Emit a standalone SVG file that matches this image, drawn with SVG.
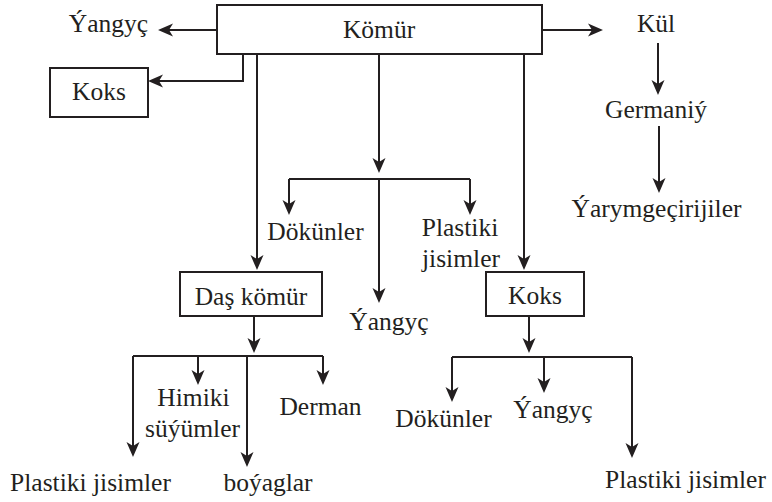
<svg xmlns="http://www.w3.org/2000/svg" width="772" height="502" viewBox="0 0 772 502">
<defs>
<style>
.t{font-size:25.5px;fill:#231f20;text-anchor:middle}
.b{fill:#fff;stroke:#231f20;stroke-width:2}
.c{fill:none;stroke:#231f20;stroke-width:2}
.a{fill:none;stroke:#231f20;stroke-width:2;marker-end:url(#ah)}
</style>
<marker id="ah" markerUnits="userSpaceOnUse" viewBox="-8 -7 17 14" refX="0" refY="0" markerWidth="17" markerHeight="14" orient="auto">
<path d="M8,0 L-7,-6.5 L-3,0 L-7,6.5 Z" fill="#231f20"/>
</marker>
</defs>
<rect width="772" height="502" fill="#fff"/>
<g id="connectors">
<path class="a" d="M217,30 H166"/>
<path class="a" d="M243,54 V81 H156"/>
<path class="a" d="M257,54 V262"/>
<path class="a" d="M379,54 V165"/>
<path class="c" d="M289,179 H470"/>
<path class="a" d="M289,179 V207"/>
<path class="a" d="M470,179 V207"/>
<path class="a" d="M379,179 V295"/>
<path class="a" d="M524,54 V262"/>
<path class="a" d="M542,30 H595"/>
<path class="a" d="M658,43 V87"/>
<path class="a" d="M659,126 V185"/>
<path class="a" d="M254,316 V345"/>
<path class="c" d="M133,356 H323"/>
<path class="a" d="M133,356 V449"/>
<path class="a" d="M198,356 V377"/>
<path class="a" d="M247,356 V459"/>
<path class="a" d="M323,356 V377"/>
<path class="a" d="M529,316 V345"/>
<path class="c" d="M452,357 H632"/>
<path class="a" d="M452,357 V394"/>
<path class="a" d="M544,357 V385"/>
<path class="a" d="M632,357 V450"/>
</g>
<g font-family="Liberation Serif, serif">
<g id="komur"><rect class="b" x="217" y="5" width="325" height="49"/><text class="t" x="379" y="38">Kömür</text></g>
<g id="yangyc1"><text class="t" x="108.5" y="32">Ýangyç</text></g>
<g id="koks1"><rect class="b" x="50" y="68" width="98" height="49"/><text class="t" x="99" y="100">Koks</text></g>
<g id="kul"><text class="t" x="656" y="32">Kül</text></g>
<g id="germaniy"><text class="t" x="656" y="118">Germaniý</text></g>
<g id="yarymgecirijiler"><text class="t" x="656.5" y="217">Ýarymgeçirijiler</text></g>
<g id="dokunler1"><text class="t" x="315.5" y="240">Dökünler</text></g>
<g id="plastiki1"><text class="t" x="460" y="236">Plastiki</text><text class="t" x="461" y="267">jisimler</text></g>
<g id="daskomur"><rect class="b" x="180" y="272" width="142" height="44"/><text class="t" x="251" y="305">Daş kömür</text></g>
<g id="yangyc2"><text class="t" x="389" y="330">Ýangyç</text></g>
<g id="koks2"><rect class="b" x="486" y="272" width="98" height="44"/><text class="t" x="535" y="304">Koks</text></g>
<g id="himiki"><text class="t" x="193.5" y="406">Himiki</text><text class="t" x="192.5" y="437">süýümler</text></g>
<g id="derman"><text class="t" x="320.5" y="415">Derman</text></g>
<g id="plastiki2"><text class="t" x="90.5" y="491">Plastiki jisimler</text></g>
<g id="boyaglar"><text class="t" x="268" y="491">boýaglar</text></g>
<g id="dokunler2"><text class="t" x="443.5" y="427">Dökünler</text></g>
<g id="yangyc3"><text class="t" x="553" y="418">Ýangyç</text></g>
<g id="plastiki3"><text class="t" x="685.5" y="488">Plastiki jisimler</text></g>
</g>
</svg>
